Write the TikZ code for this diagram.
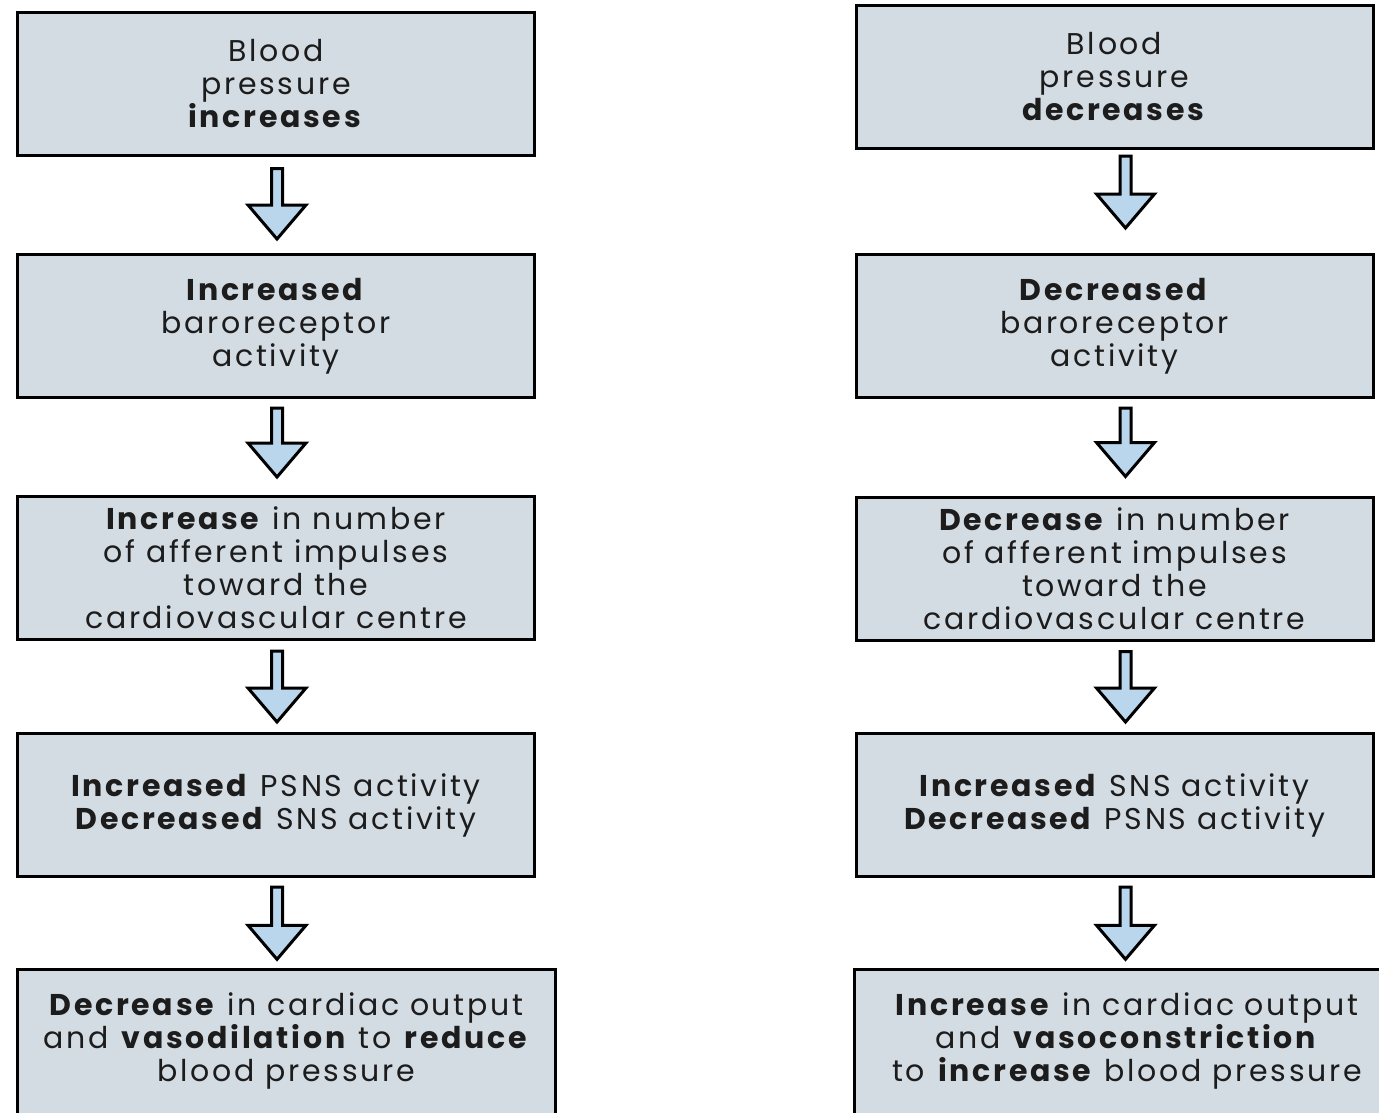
\documentclass[tikz,border=0pt]{standalone}
\usepackage{fontspec}
\setmainfont{Poppins}[LetterSpace=9]
\usetikzlibrary{calc,backgrounds}

\definecolor{boxfill}{HTML}{D3DBE3}
\definecolor{arrowfill}{HTML}{BAD6EC}
\definecolor{ink}{HTML}{1C1C1C}

\tikzset{
  boxframe/.style={draw=black, line width=3pt, fill=boxfill},
  stagetext/.style={minimum width=517pt, minimum height=143pt, inner sep=0pt,
    align=center, text=ink, font=\fontsize{30}{33}\selectfont},
  stagebox/.style={stagetext, boxframe},
  blockarrow/.style={draw=black, line width=3pt, fill=arrowfill, line join=miter},
}

% hollow block arrow from the bottom of #2 to the top of #3;
% #1 = sideways shift, #4 = gap below #2, #5 = gap above #3
\newcommand\flowarrow[5][0]{%
  \draw[blockarrow] let \p1=(#2.south), \p2=(#3.north),
      \n1={\x1+#1pt}, \n2={\y1-#4pt}, \n3={\y2+#5pt}, \n4={\y2+#5pt+34pt} in
    (\n1-5.5pt,\n2) -- (\n1+5.5pt,\n2) -- (\n1+5.5pt,\n4) -- (\n1+29pt,\n4)
    -- (\n1,\n3) -- (\n1-29pt,\n4) -- (\n1-5.5pt,\n4) -- cycle;}

\begin{document}
\begin{tikzpicture}[x=1pt, y=-1pt]
  \useasboundingbox (0,0) rectangle (1379,1112);
  \clip (0,0) rectangle (1379,1112);

  % rising pressure column
  \node[stagebox] (l1) at (276,83.5) {Blood\\pressure\\\textbf{increases}};
  \node[stagebox] (l2) at (276,326) {\textbf{Increased}\\baroreceptor\\activity};
  \node[stagebox] (l3) at (276,568) {\textbf{Increase} in number\\of afferent impulses\\toward the\\cardiovascular centre};
  \node[stagebox] (l4) at (276,805) {\textbf{Increased} PSNS activity\\\textbf{Decreased} SNS activity};
  \node[stagetext, minimum width=538pt] (l5) at (286.5,1041) {\textbf{Decrease} in cardiac output\\and \textbf{vasodilation} to \textbf{reduce}\\blood pressure};

  % falling pressure column
  \node[stagebox] (r1) at (1114.5,77) {Blood\\pressure\\\textbf{decreases}};
  \node[stagebox] (r2) at (1114.5,326) {\textbf{Decreased}\\baroreceptor\\activity};
  \node[stagebox] (r3) at (1114.5,568.5) {\textbf{Decrease} in number\\of afferent impulses\\toward the\\cardiovascular centre};
  \node[stagebox] (r4) at (1114.5,805) {\textbf{Increased} SNS activity\\\textbf{Decreased} PSNS activity};
  \node[stagetext, minimum width=544pt] (r5) at (1127,1041) {\textbf{Increase} in cardiac output\\and \textbf{vasoconstriction}\\to \textbf{increase} blood pressure};

  % white page, then the last two boxes, which run past the lower and right edges
  \begin{scope}[on background layer]
    \fill[white] (0,0) rectangle (1379,1112);
    \draw[boxframe] (l5.north west) rectangle ([yshift=-30pt]l5.south east);
    \draw[boxframe] (r5.north west) rectangle ([shift={(40pt,-30pt)}]r5.south east);
  \end{scope}

  % arrows, left
  \flowarrow[1]{l1}{l2}{12}{14}
  \flowarrow[1]{l2}{l3}{9}{18}
  \flowarrow[1]{l3}{l4}{10}{10}
  \flowarrow[1]{l4}{l5}{9}{10}
  % arrows, right
  \flowarrow[11]{r1}{r2}{6}{25}
  \flowarrow[11]{r2}{r3}{9}{19}
  \flowarrow[11]{r3}{r4}{10}{10}
  \flowarrow[11]{r4}{r5}{9}{10}
\end{tikzpicture}
\end{document}
